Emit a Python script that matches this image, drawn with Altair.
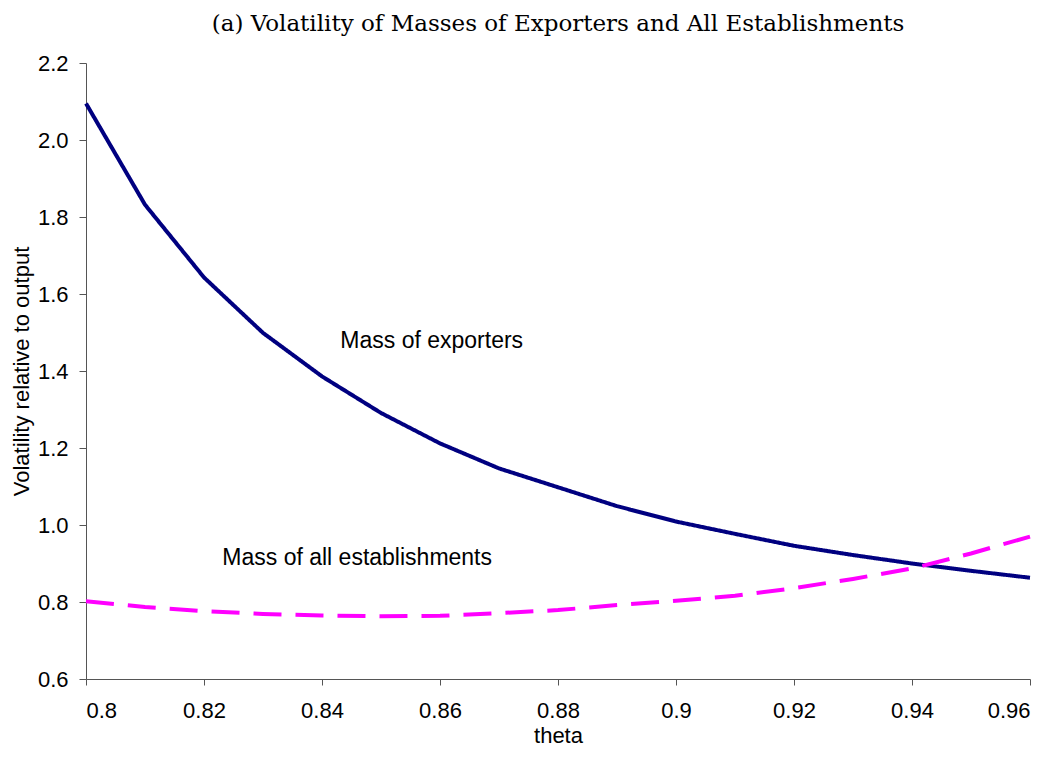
import altair as alt
import pandas as pd

theta = [0.80, 0.81, 0.82, 0.83, 0.84, 0.85, 0.86, 0.87, 0.88, 0.89,
         0.90, 0.91, 0.92, 0.93, 0.94, 0.95, 0.96]
exporters = [2.095, 1.832, 1.643, 1.499, 1.386, 1.291, 1.212, 1.147, 1.098,
             1.049, 1.009, 0.977, 0.946, 0.922, 0.900, 0.881, 0.863]
establishments = [0.802, 0.787, 0.776, 0.769, 0.765, 0.763, 0.764, 0.771,
                  0.779, 0.792, 0.803, 0.816, 0.836, 0.860, 0.887, 0.926, 0.970]

series_names = ["Mass of exporters", "Mass of all establishments"]
series_colors = ["#000080", "#FF00FF"]

label_text = ["Mass of exporters", "Mass of all establishments"]
label_x = [0.8431, 0.8231]
label_y = [1.460, 0.896]

x_ticks = [0.80, 0.82, 0.84, 0.86, 0.88, 0.90, 0.92, 0.94, 0.96]
y_ticks = [0.6, 0.8, 1.0, 1.2, 1.4, 1.6, 1.8, 2.0, 2.2]

rows = []
for name, vals in zip(series_names, [exporters, establishments]):
    for t, v in zip(theta, vals):
        rows.append({"theta": t, "value": v, "series": name})
df = pd.DataFrame(rows)
labels = pd.DataFrame({"text": label_text, "x": label_x, "y": label_y})

x_scale = alt.Scale(domain=[0.8, 0.96], nice=False, zero=False)
y_scale = alt.Scale(domain=[0.6, 2.2], nice=False, zero=False)

lines = alt.Chart(df).mark_line(strokeWidth=4).encode(
    x=alt.X("theta:Q", scale=x_scale, title="theta",
            axis=alt.Axis(values=x_ticks, format=".2~f", tickSize=6,
                          labelPadding=15, titlePadding=4)),
    y=alt.Y("value:Q", scale=y_scale, title="Volatility relative to output",
            axis=alt.Axis(values=y_ticks, format=".1f", tickSize=7,
                          labelPadding=11, titlePadding=4)),
    color=alt.Color("series:N", scale=alt.Scale(domain=series_names, range=series_colors), legend=None),
    strokeDash=alt.StrokeDash("series:N", scale=alt.Scale(domain=series_names, range=[[1, 0], [28, 14]]), legend=None),
)

text = alt.Chart(labels).mark_text(align="left", baseline="alphabetic", font="Liberation Sans",
                                    fontSize=23, color="black").encode(
    x=alt.X("x:Q", scale=x_scale),
    y=alt.Y("y:Q", scale=y_scale),
    text="text:N",
)

chart = alt.layer(lines, text).properties(
    width=944,
    height=616,
    autosize="none",
    padding={"left": 78, "top": 55, "right": 21, "bottom": 71},
    title=alt.TitleParams("(a) Volatility of Masses of Exporters and All Establishments",
                          font="DejaVu Serif", fontSize=23, fontWeight="normal",
                          color="black", anchor="middle", baseline="top", offset=16),
).configure_view(stroke=None).configure_axis(
    grid=False,
    labelFont="Liberation Sans", labelFontSize=22, labelColor="black",
    titleFont="Liberation Sans", titleFontSize=22, titleFontWeight="normal", titleColor="black",
    domainColor="#555555", tickColor="#555555",
)

chart.save("out.html", embed_options={"renderer": "svg", "actions": False})
